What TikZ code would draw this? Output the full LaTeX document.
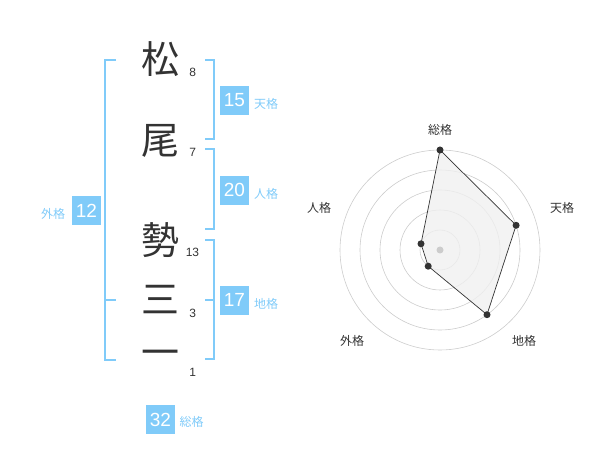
\documentclass[tikz,border=0pt]{standalone}
\usepackage{fontspec}
\setmainfont{Liberation Sans}
\newfontfamily\jp{Noto Sans CJK JP}
\definecolor{lb}{HTML}{80CBF9}
\definecolor{dk}{HTML}{333333}
\definecolor{gc}{HTML}{CCCCCC}
\begin{document}
\begin{tikzpicture}[x=1pt,y=-1pt,
  kan/.style={inner sep=0pt,text=dk,font=\jp\fontsize{38}{38}\selectfont},
  strk/.style={inner sep=0pt,text=dk,font=\fontsize{12}{12}\selectfont},
  brk/.style={draw=lb,line width=2pt},
  nbox/.style={fill=lb,text=white,minimum width=29pt,minimum height=29pt,inner sep=0pt,font=\fontsize{19}{19}\selectfont},
  blab/.style={inner sep=0pt,text=lb,font=\jp\fontsize{12}{12}\selectfont},
  rlab/.style={inner sep=0pt,text=dk,font=\jp\fontsize{12}{12}\selectfont},
  ring/.style={draw=gc,line width=0.6pt},
  dot/.style={circle,fill=dk,inner sep=0pt,minimum size=7pt}]
\useasboundingbox (0,0) rectangle (600,470);
% name characters
\node[kan] (c1) at (160,59.5) {松};
\node[kan] (c2) at (160,141) {尾};
\node[kan] (c3) at (160,240) {勢};
\node[kan] (c4) at (160,300) {三};
\node[kan] (c5) at (160,358) {一};
% stroke counts
\node[strk] (s1) at (192.7,72.7) {8};
\node[strk] (s2) at (192.7,152.7) {7};
\node[strk] (s3) at (192.5,252) {13};
\node[strk] (s4) at (192.7,313) {3};
\node[strk] (s5) at (192.7,372.7) {1};
% brackets
\draw[brk] (116,60) -- (105,60) -- (105,360) -- (116,360);
\draw[brk] (105,300) -- (116,300);
\draw[brk] (205,60) -- (214.3,60) -- (214.3,139.5) -- (205,139.5);
\draw[brk] (205,149.5) -- (214.3,149.5) -- (214.3,229.5) -- (205,229.5);
\draw[brk] (205,240) -- (214.3,240) -- (214.3,359.5) -- (205,359.5);
\draw[brk] (214.3,300) -- (205,300);
% boxes and labels
\node[nbox] (b15) at (234.5,100.3) {15};
\node[blab] (l15) at (266,104) {天格};
\node[nbox] (b20) at (234.5,190.3) {20};
\node[blab] (l20) at (266,194) {人格};
\node[nbox] (b17) at (234.5,300.3) {17};
\node[blab] (l17) at (266,304) {地格};
\node[nbox] (b12) at (86.5,210.5) {12};
\node[blab] (l12) at (53,214) {外格};
\node[nbox] (b32) at (160.5,419.8) {32};
\node[blab] (l32) at (191.7,422) {総格};
% radar chart
\foreach \r in {20,40,60,80,100} \draw[ring] (440,250) circle[radius=\r];
\coordinate (p1) at (440,150);
\coordinate (p2) at (516.1,225.3);
\coordinate (p3) at (487.0,314.7);
\coordinate (p4) at (428.2,266.2);
\coordinate (p5) at (421.0,243.8);
\draw[fill=black!6,fill opacity=0.8,draw=dk,line width=0.7pt] (p1) -- (p2) -- (p3) -- (p4) -- (p5) -- cycle;
\fill[gc] (440,250) circle[radius=3.5];
\foreach \p in {p1,p2,p3,p4,p5} \node[dot] at (\p) {};
\node[rlab] (r1) at (440,130) {総格};
\node[rlab] (r2) at (562,208) {天格};
\node[rlab] (r3) at (524,341) {地格};
\node[rlab] (r4) at (352,341) {外格};
\node[rlab] (r5) at (319,208) {人格};
\end{tikzpicture}
\end{document}
